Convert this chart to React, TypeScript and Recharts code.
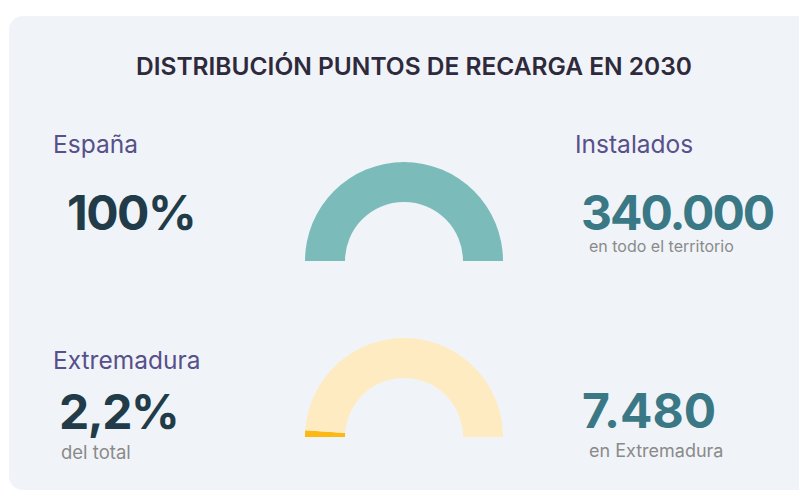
import { PieChart, Pie, Cell } from "recharts";

const title = "DISTRIBUCIÓN PUNTOS DE RECARGA EN 2030";

const regions = ["España", "Extremadura"];
const shares = ["100%", "2,2%"];
const shareNotes = ["", "del total"];
const pointLabels = ["Instalados", ""];
const points = ["340.000", "7.480"];
const pointNotes = ["en todo el territorio", "en Extremadura"];

const espanaData = [{ name: "España", value: 100 }];
const extremaduraData = [
  { name: "Extremadura", value: 2.2 },
  { name: "Resto", value: 97.8 },
];

const FONT = "Inter, 'Noto Sans', sans-serif";

export default function App() {
  return (
    <div style={{ position: "absolute", left: 0, top: 0, width: 799, height: 492, background: "#ffffff", overflow: "hidden" }}>
      <div
        style={{
          position: "absolute",
          left: 9,
          top: 16,
          width: 806,
          height: 474,
          borderRadius: 14,
          background: "#f0f4f8",
        }}
      />
      <div style={{ position: "absolute", left: 0, top: 0 }}>
        {/* chart margin shifts the pies by 5px, so centres are given 5px less */}
        <PieChart width={799} height={492}>
          <Pie
            data={espanaData}
            dataKey="value"
            cx={399}
            cy={256}
            startAngle={180}
            endAngle={0}
            innerRadius={59}
            outerRadius={99}
            stroke="none"
            isAnimationActive={false}
          >
            <Cell fill="#7bbcbb" />
          </Pie>
          <Pie
            data={extremaduraData}
            dataKey="value"
            cx={399}
            cy={432}
            startAngle={180}
            endAngle={0}
            innerRadius={59}
            outerRadius={99}
            stroke="none"
            isAnimationActive={false}
          >
            <Cell fill="#fdb913" />
            <Cell fill="#feebc2" />
          </Pie>
        </PieChart>
      </div>
      <svg width={799} height={492} style={{ position: "absolute", left: 0, top: 0, pointerEvents: "none" }} fontFamily={FONT}>
        <text x={414} y={75} textAnchor="middle" fontSize={24.5} fontWeight={600} fill="#2e2a3c">
          {title}
        </text>

        <text x={53} y={153} fontSize={24.5} fill="#57508a">{regions[0]}</text>
        <text x={67} y={230} fontSize={48} fontWeight={700} letterSpacing={-1.5} fill="#213b49">{shares[0]}</text>
        <text x={575} y={153} fontSize={24.5} fill="#57508a">{pointLabels[0]}</text>
        <text x={581} y={230} fontSize={48} fontWeight={700} letterSpacing={-2} fill="#3a7886">{points[0]}</text>
        <text x={589} y={252} fontSize={16} fill="#8a8a8a">{pointNotes[0]}</text>
        <text x={53} y={369} fontSize={24.5} fill="#57508a">{regions[1]}</text>
        <text x={59} y={429} fontSize={48} fontWeight={700} letterSpacing={-1.5} fill="#213b49">{shares[1]}</text>
        <text x={61} y={459} fontSize={18.5} fill="#8a8a8a">{shareNotes[1]}</text>
        <text x={582} y={428} fontSize={48} fontWeight={700} fill="#3a7886">{points[1]}</text>
        <text x={589} y={457} fontSize={18} fill="#8a8a8a">{pointNotes[1]}</text>
      </svg>
    </div>
  );
}
